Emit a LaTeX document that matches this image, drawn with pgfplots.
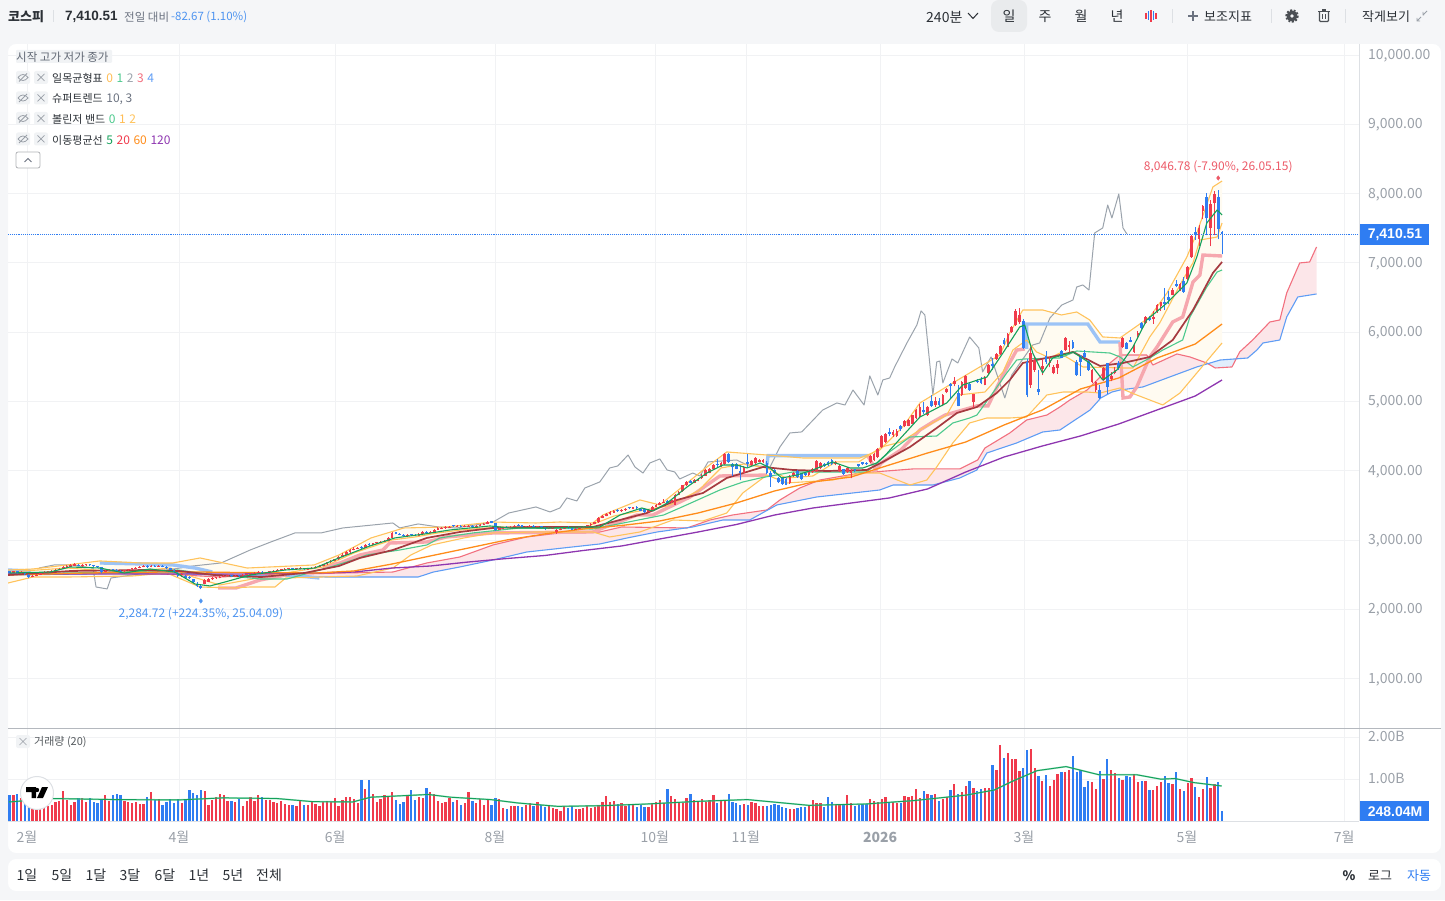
\documentclass[border=0pt]{standalone}
\usepackage{fontspec}
\setmainfont{Noto Sans CJK KR}
\newfontfamily\numb{Liberation Sans}
\usepackage{pgfplots}
\usepackage{pgfplotstable}
\pgfplotsset{compat=1.18}
\usepgfplotslibrary{fillbetween}
\newcommand{\fs}[1]{\fontsize{#1}{#1}\selectfont}
\newcommand{\lgd}[2]{\hspace{3.6pt}{\fs{12}\textcolor{#1}{#2}}}
\definecolor{pagebg}{HTML}{F5F6F8}
\definecolor{gridc}{HTML}{F1F2F4}
\definecolor{sepc}{HTML}{B4B8BE}
\definecolor{axc}{HTML}{DDE0E4}
\definecolor{txt}{HTML}{2B3036}
\definecolor{sub}{HTML}{6B7280}
\definecolor{tick}{HTML}{9AA0A8}
\definecolor{upc}{HTML}{F03A4C}
\definecolor{dnc}{HTML}{2F7DF2}
\definecolor{annr}{HTML}{EC5A68}
\definecolor{annb}{HTML}{4E94F0}
\definecolor{gold}{HTML}{FFC35C}
\definecolor{kij}{HTML}{4CC98D}
\definecolor{chi}{HTML}{9BA3AC}
\definecolor{spa}{HTML}{F2707F}
\definecolor{spb}{HTML}{5F9DF5}
\definecolor{cloudr}{HTML}{FCE6E9}
\definecolor{cloudb}{HTML}{E1EEFC}
\definecolor{bbfill}{HTML}{FFFBF1}
\definecolor{stp}{HTML}{F6A7AE}
\definecolor{stb}{HTML}{9CC3F6}
\definecolor{mafive}{HTML}{14A05A}
\definecolor{matw}{HTML}{A63A40}
\definecolor{masx}{HTML}{FF8C1A}
\definecolor{mahu}{HTML}{8E36B0}
\definecolor{pill}{HTML}{F1F3F5}

% o c h l v, ten bars a line
\pgfplotstableread[row sep=\\]{
o c h l v\\
2545 2530 2555 2520 610\\ 2530 2545 2555 2520 610\\ 2545 2525 2550 2515 634\\ 2520 2535 2545 2510 553\\ 2530 2510 2540 2500 618\\ 2500 2465 2510 2450 512\\ 2470 2485 2495 2460 431\\ 2480 2495 2505 2475 350\\ 2500 2520 2530 2495 309\\ 2520 2535 2545 2515 309\\
2530 2545 2555 2525 350\\ 2545 2555 2565 2540 390\\ 2550 2570 2580 2545 455\\ 2570 2585 2595 2565 488\\ 2585 2610 2620 2580 707\\ 2610 2630 2640 2600 512\\ 2615 2640 2650 2610 390\\ 2630 2655 2670 2625 455\\ 2645 2625 2655 2620 553\\ 2625 2640 2650 2615 561\\
2635 2650 2660 2625 455\\ 2650 2635 2660 2630 553\\ 2635 2620 2645 2610 447\\ 2620 2605 2630 2600 431\\ 2605 2540 2610 2530 520\\ 2540 2555 2570 2535 610\\ 2555 2570 2580 2550 472\\ 2575 2565 2585 2555 618\\ 2565 2550 2575 2545 634\\ 2550 2545 2560 2535 618\\
2545 2560 2570 2540 472\\ 2560 2575 2585 2555 447\\ 2575 2590 2600 2570 431\\ 2585 2600 2610 2580 455\\ 2600 2610 2620 2595 407\\ 2610 2625 2635 2605 415\\ 2625 2610 2635 2600 585\\ 2610 2630 2640 2605 683\\ 2630 2620 2640 2610 512\\ 2620 2630 2640 2615 537\\
2630 2615 2640 2605 390\\ 2615 2590 2620 2580 455\\ 2590 2570 2600 2560 537\\ 2565 2535 2575 2525 439\\ 2530 2480 2540 2470 537\\ 2490 2510 2520 2470 439\\ 2480 2450 2490 2440 537\\ 2470 2445 2480 2430 732\\ 2430 2390 2440 2380 659\\ 2370 2330 2390 2320 618\\
2330 2300 2350 2285 732\\ 2370 2420 2430 2360 707\\ 2400 2430 2445 2390 390\\ 2430 2445 2460 2425 512\\ 2445 2460 2470 2440 585\\ 2450 2470 2485 2445 634\\ 2470 2485 2495 2465 618\\ 2480 2490 2500 2470 488\\ 2490 2475 2500 2465 472\\ 2475 2485 2495 2470 455\\
2490 2480 2500 2470 537\\ 2485 2500 2510 2480 366\\ 2495 2505 2515 2490 488\\ 2505 2515 2525 2500 585\\ 2515 2525 2535 2510 488\\ 2525 2535 2545 2520 610\\ 2535 2520 2545 2515 577\\ 2520 2530 2540 2515 512\\ 2530 2545 2555 2525 512\\ 2545 2555 2565 2540 455\\
2555 2565 2575 2550 431\\ 2565 2575 2585 2560 472\\ 2570 2580 2590 2565 407\\ 2580 2590 2600 2575 374\\ 2590 2580 2600 2570 390\\ 2580 2590 2600 2575 350\\ 2590 2595 2605 2585 488\\ 2595 2575 2600 2565 390\\ 2575 2585 2595 2570 390\\ 2585 2600 2610 2580 472\\
2600 2610 2620 2595 407\\ 2610 2625 2635 2605 350\\ 2625 2650 2660 2620 455\\ 2650 2675 2685 2645 488\\ 2675 2695 2705 2670 455\\ 2695 2720 2730 2690 561\\ 2720 2755 2770 2715 350\\ 2755 2790 2805 2750 504\\ 2790 2820 2835 2785 585\\ 2820 2855 2870 2815 569\\
2855 2875 2895 2850 537\\ 2875 2890 2905 2870 431\\ 2900 2885 2915 2875 976\\ 2885 2925 2935 2880 756\\ 2940 2925 2950 2915 976\\ 2925 2950 2960 2920 634\\ 2950 2965 2975 2945 463\\ 2965 2975 2985 2960 520\\ 2975 2985 2995 2970 618\\ 2985 3030 3040 2980 577\\
3030 3100 3110 3025 683\\ 3110 3090 3120 3080 512\\ 3090 3075 3100 3065 407\\ 3075 3060 3085 3050 455\\ 3050 3065 3080 3040 593\\ 3080 3070 3090 3060 732\\ 3075 3060 3085 3050 512\\ 3060 3090 3100 3055 569\\ 3085 3110 3125 3080 553\\ 3115 3105 3125 3095 780\\
3100 3120 3130 3095 683\\ 3120 3150 3165 3115 650\\ 3150 3170 3180 3145 488\\ 3165 3175 3185 3160 439\\ 3170 3180 3195 3165 455\\ 3180 3190 3200 3175 553\\ 3210 3200 3220 3190 455\\ 3190 3195 3210 3185 504\\ 3200 3190 3210 3180 390\\ 3190 3200 3210 3185 439\\
3195 3205 3215 3190 699\\ 3205 3190 3215 3180 472\\ 3190 3205 3215 3185 431\\ 3205 3220 3230 3200 537\\ 3220 3235 3245 3215 390\\ 3235 3255 3275 3230 520\\ 3275 3250 3280 3240 374\\ 3240 3145 3250 3135 553\\ 3150 3170 3180 3140 520\\ 3165 3175 3185 3160 309\\
3190 3180 3200 3170 293\\ 3180 3190 3200 3175 366\\ 3190 3200 3210 3185 366\\ 3215 3210 3225 3200 366\\ 3210 3190 3220 3180 341\\ 3190 3195 3205 3185 390\\ 3195 3205 3215 3190 431\\ 3205 3190 3215 3180 350\\ 3185 3195 3205 3180 455\\ 3195 3180 3205 3170 374\\
3180 3160 3190 3150 325\\ 3160 3170 3180 3155 374\\ 3165 3175 3185 3160 309\\ 3110 3140 3160 3090 276\\ 3145 3165 3175 3140 244\\ 3165 3180 3190 3160 366\\ 3185 3175 3195 3165 309\\ 3175 3150 3180 3140 350\\ 3150 3165 3175 3145 276\\ 3165 3180 3190 3160 285\\
3180 3190 3200 3175 309\\ 3190 3210 3220 3185 366\\ 3210 3230 3240 3205 309\\ 3230 3255 3265 3225 325\\ 3255 3320 3330 3250 390\\ 3320 3345 3360 3315 455\\ 3345 3370 3385 3340 593\\ 3370 3400 3415 3365 455\\ 3395 3420 3430 3390 488\\ 3430 3420 3440 3405 407\\
3415 3435 3450 3410 431\\ 3430 3450 3460 3425 366\\ 3470 3455 3480 3445 407\\ 3450 3470 3480 3445 390\\ 3480 3460 3490 3450 325\\ 3450 3425 3465 3415 390\\ 3445 3400 3450 3390 325\\ 3410 3430 3440 3405 325\\ 3430 3475 3490 3425 431\\ 3480 3510 3520 3475 455\\
3510 3535 3550 3505 512\\ 3535 3550 3590 3530 431\\ 3560 3530 3570 3520 756\\ 3550 3575 3590 3540 593\\ 3510 3650 3665 3505 537\\ 3650 3690 3710 3645 439\\ 3700 3790 3800 3695 439\\ 3790 3830 3850 3785 553\\ 3850 3825 3870 3815 650\\ 3825 3860 3880 3820 512\\
3850 3885 3900 3845 488\\ 3890 3930 3950 3885 537\\ 3930 4010 4020 3925 447\\ 3970 4025 4040 3960 512\\ 4020 4075 4090 4010 610\\ 4100 4085 4170 4040 439\\ 4060 4105 4120 4050 504\\ 4090 4235 4255 4085 472\\ 4235 4120 4250 4110 634\\ 4090 4050 4110 3920 455\\
4090 4030 4105 4020 423\\ 3990 3960 4085 3860 374\\ 3970 4060 4070 3960 407\\ 4130 4100 4240 4050 374\\ 4080 4140 4150 4070 463\\ 4110 4180 4200 4100 439\\ 4130 4150 4165 4125 366\\ 4120 4160 4175 4110 350\\ 4110 3960 4140 3950 366\\ 3960 3910 3990 3770 382\\
4010 3960 4020 3950 398\\ 3900 3830 3910 3820 390\\ 3900 3810 3915 3800 325\\ 3880 3800 3890 3790 317\\ 3820 3920 3935 3810 276\\ 3920 3960 3975 3910 276\\ 4000 3910 4010 3900 309\\ 3960 3880 3970 3860 333\\ 3960 3940 3975 3930 325\\ 3940 4000 4015 3930 390\\
3980 4020 4035 3970 512\\ 3990 4140 4150 3985 423\\ 4040 4110 4125 4030 439\\ 4090 4070 4110 4060 341\\ 4130 4080 4140 4070 569\\ 4150 4090 4165 4080 455\\ 4090 4130 4145 4080 407\\ 3990 4070 4085 3980 390\\ 4020 3950 4030 3940 415\\ 3980 4040 4055 3970 618\\
3960 3990 4030 3890 431\\ 4020 3990 4030 3980 350\\ 4090 4070 4100 4060 390\\ 4120 4090 4130 4080 407\\ 4110 4090 4125 4080 407\\ 4125 4212 4225 4115 537\\ 4154 4240 4250 4145 488\\ 4197 4312 4325 4190 455\\ 4342 4500 4515 4330 520\\ 4414 4530 4550 4405 585\\
4560 4530 4610 4500 447\\ 4510 4560 4590 4490 455\\ 4500 4570 4600 4490 423\\ 4640 4600 4660 4570 423\\ 4640 4720 4730 4630 602\\ 4650 4725 4740 4640 585\\ 4680 4800 4810 4670 602\\ 4760 4880 4890 4750 756\\ 4775 4920 4960 4765 553\\ 4880 4840 4990 4820 715\\
4800 4920 4935 4790 650\\ 5000 4940 5090 4920 618\\ 4950 5000 5070 4920 634\\ 5010 4950 5050 4930 488\\ 4950 5090 5110 4930 537\\ 5130 5180 5195 5120 569\\ 5255 5220 5270 5040 740\\ 5250 5290 5350 5220 894\\ 5120 4930 5240 4930 634\\ 5090 5280 5295 5080 683\\
5190 5370 5385 5180 829\\ 5250 5160 5265 5150 959\\ 4990 5100 5110 4905 797\\ 5300 5280 5320 5270 715\\ 5330 5260 5345 5250 756\\ 5240 5350 5365 5230 789\\ 5410 5525 5540 5400 789\\ 5540 5510 5620 5450 1350\\ 5610 5680 5695 5600 1228\\ 5680 5800 5815 5670 1813\\
5890 5830 5910 5810 1512\\ 5790 5970 5990 5780 1634\\ 6000 6070 6090 5990 1472\\ 6100 6310 6330 6090 1472\\ 6140 6245 6350 6120 1203\\ 6160 5770 6190 5750 1268\\ 5570 5090 5610 5060 1691\\ 5236 5700 5780 5200 1715\\ 5453 5597 5650 5430 1268\\ 5180 5140 5453 5090 1081\\
5470 5510 5610 5380 959\\ 5660 5570 5720 5540 1106\\ 5560 5600 5640 5490 837\\ 5410 5500 5520 5390 976\\ 5480 5540 5590 5400 1122\\ 5720 5630 5740 5620 1179\\ 5740 5915 5930 5730 1179\\ 5790 5820 5870 5690 1220\\ 5860 5770 5890 5760 1545\\ 5570 5380 5590 5370 1179\\
5650 5570 5670 5370 1228\\ 5700 5640 5740 5620 813\\ 5580 5450 5600 5440 959\\ 5280 5450 5470 5260 935\\ 5160 5280 5300 5140 764\\ 5160 5050 5240 5040 1203\\ 5310 5480 5500 5290 1000\\ 5550 5210 5560 5110 1472\\ 5330 5370 5420 5290 1220\\ 5410 5450 5490 5390 1146\\
5550 5480 5580 5460 1024\\ 5780 5910 5930 5770 976\\ 5840 5760 5860 5750 1081\\ 5890 5860 5930 5850 1057\\ 5715 5815 5830 5700 1122\\ 5960 5980 6010 5900 927\\ 6130 6060 6150 6050 959\\ 6130 6215 6230 6120 959\\ 6210 6170 6230 6160 740\\ 6190 6215 6300 6120 740\\
6290 6390 6400 6280 837\\ 6370 6430 6440 6310 935\\ 6430 6400 6640 6320 1081\\ 6500 6460 6600 6400 902\\ 6540 6610 6630 6530 878\\ 6690 6660 6750 6650 1179\\ 6610 6690 6710 6600 756\\ 6740 6580 6790 6570 715\\ 6770 6940 6960 6750 902\\ 7080 7390 7400 7070 1032\\
7440 7400 7520 7330 813\\ 7350 7500 7550 7240 569\\ 7750 7820 7830 7630 764\\ 7950 7640 8010 7400 1057\\ 7500 7850 7900 7240 797\\ 7860 7990 8040 7400 878\\ 7950 7490 8046 7340 935\\ 7450 7410 7460 7120 248\\
}\kdata

\pgfplotsset{
  /pgfplots/table/upx/.style={x expr={\thisrow{c}>=\thisrow{o} ? \coordindex : nan}},
  /pgfplots/table/dnx/.style={x expr={\thisrow{c}<\thisrow{o} ? \coordindex : nan}},
  base/.style={scale only axis, width=1351pt, xmin=-0.42, xmax=352.8,
    xtick={4.55,44.3,85.1,126.9,168.7,192.5,227.6,265.2,307.8,348.9},
    grid=major, grid style={gridc,line width=.7pt},
    axis line style={draw=none}, major tick length=0pt,
    yticklabel pos=right, scaled y ticks=false,
    yticklabel style={anchor=west,inner sep=0pt,xshift=9pt,yshift=-.8pt,text=tick,font=\fs{14}},
    clip=true},
  wick/.style={only marks,mark=*,mark size=0pt,mark options={draw=none,fill=none},error bars/.cd,y dir=plus,y explicit,error mark=none,error bar style={#1,line width=1pt}},
  body/.style={only marks,mark=*,mark size=0pt,mark options={draw=none,fill=none},error bars/.cd,y dir=plus,y explicit,error mark=none,error bar style={#1,line width=2.7pt}},
  st/.style={#1,line width=3.4pt,mark=none},
  ln/.style={#1,line width=1.1pt,mark=none,line join=round},
}

\begin{document}
\begin{tikzpicture}[x=1pt,y=1pt]
% grey page as a frame round the two panels, so the fills under the plots stay visible
\begin{scope}[shift={(0,900)},yscale=-1]
  \fill[pagebg,even odd rule] (0,0) rectangle (1445,900)
    [rounded corners=8pt] (8,44) rectangle (1441,853)
    (8,859) rectangle (1441,891);
\end{scope}

% price panel
\begin{axis}[base, at={(8pt,172pt)}, anchor=south west, height=684pt,
  ymin=286, ymax=10158, xticklabels={},
  ytick={1000,2000,3000,4000,5000,6000,7000,8000,9000,10000},
  /pgf/number format/fixed, /pgf/number format/fixed zerofill, /pgf/number format/precision=2,
  /pgf/number format/1000 sep={,}, /pgf/number format/assume math mode=true]

% bollinger band
\addplot[draw=none,forget plot,name path=bbu] coordinates {(-0.4,2566)(6.1,2581)(15,2639)(23.6,2697)(34.1,2668)(42.7,2668)(49.8,2740)(58.4,2639)(62.1,2595)(79.6,2639)(86.1,2783)(94.5,3029)(103.1,3173)(114.1,3187)(126.4,3259)(137.6,3245)(143.9,3259)(152.5,3245)(155.1,3360)(164.8,3577)(170,3505)(182.3,4053)(187.5,4270)(198,4226)(207.4,4183)(222.3,4183)(227.5,4298)(233.5,4630)(238,4977)(246.6,5266)(251,5410)(258.9,5669)(261.5,5987)(264.9,6319)(270.1,6319)(275,6247)(279,6290)(282.4,6175)(285.8,5930)(290.3,5915)(298.1,6218)(302.6,6565)(307.8,7084)(310.4,7431)(314.6,8095)(317,8181)};
\addplot[draw=none,forget plot,name path=bbl] coordinates {(-0.4,2379)(6.1,2465)(15,2465)(32.2,2480)(41.1,2523)(49.8,2321)(58.4,2307)(62.9,2321)(69.4,2321)(72.2,2451)(90.8,2480)(100.2,2595)(104.9,2783)(110.4,2928)(118.8,3029)(126.4,3101)(137.6,3115)(152.5,3115)(156.9,3043)(164.8,3115)(173.4,3288)(181.3,3274)(187.5,3389)(191.7,3678)(198,3937)(203.2,3822)(215.2,3865)(222.3,3966)(227.5,3966)(235.4,3793)(239.8,3865)(242.4,4053)(246.6,4400)(251,4688)(255.5,4760)(261.5,4760)(265.9,4775)(271.2,5092)(275.4,5135)(281.7,5135)(285.1,5121)(290.3,5193)(294.7,5092)(301.5,4948)(306,5121)(310.4,5410)(317,5843)};
\addplot[fill=bbfill,draw=none] fill between[of=bbu and bbl];

% ichimoku cloud
\addplot[draw=none,forget plot,name path=spana] coordinates {(-0.4,2509)(20,2523)(40,2509)(55,2465)(65.5,2494)(87.1,2523)(100.2,2537)(109.1,2668)(117.7,2754)(126.4,2928)(135.2,3043)(143.9,3101)(154.3,3115)(160,3187)(177.1,3173)(183.1,3288)(189,3360)(198,3433)(201.4,3577)(206.6,3750)(211.8,3865)(222.3,3966)(236.2,4025)(248.4,4025)(253.1,4154)(255,4327)(261.5,4544)(265.9,4731)(271.2,4803)(274.6,4919)(277.2,5020)(281.7,5164)(285.1,5352)(287.7,5554)(290.3,5669)(297.3,5669)(298.9,5525)(305.2,5684)(308.6,5641)(313,5554)(315.2,5482)(319.6,5497)(321.6,5713)(325,5886)(329.5,6146)(332.1,6175)(333.9,6565)(337.3,6998)(339.9,7012)(341.7,7229)};
\addplot[draw=none,forget plot,name path=spanb] coordinates {(-0.4,2494)(20,2509)(40,2537)(50,2502)(65.5,2480)(74,2480)(83,2465)(106.8,2465)(110.8,2537)(117.7,2610)(126.4,2711)(135.2,2826)(154.3,2942)(161.5,3029)(169.3,3115)(178.6,3187)(186.5,3288)(193.5,3288)(200.6,3505)(211,3620)(227.5,3721)(231,3793)(241.4,3793)(248.4,3894)(252.9,4010)(255.5,4255)(263.3,4400)(270.1,4558)(274.6,4587)(282.5,4876)(285.3,5049)(288.2,5135)(290.3,5164)(296.3,5208)(303.3,5352)(310.4,5497)(316.5,5597)(323.7,5626)(326.1,5741)(327.7,5843)(332.1,5886)(333.9,6218)(336.8,6507)(341.7,6550)};
\addplot[fill=cloudr,draw=none] fill between[of=spana and spanb];
\addplot[fill=cloudb,draw=none] fill between[of=spana and spanb,soft clip={domain=313:321}];
\addplot[ln=spa] coordinates {(-0.4,2509)(20,2523)(40,2509)(55,2465)(65.5,2494)(87.1,2523)(100.2,2537)(109.1,2668)(117.7,2754)(126.4,2928)(135.2,3043)(143.9,3101)(154.3,3115)(160,3187)(177.1,3173)(183.1,3288)(189,3360)(198,3433)(201.4,3577)(206.6,3750)(211.8,3865)(222.3,3966)(236.2,4025)(248.4,4025)(253.1,4154)(255,4327)(261.5,4544)(265.9,4731)(271.2,4803)(274.6,4919)(277.2,5020)(281.7,5164)(285.1,5352)(287.7,5554)(290.3,5669)(297.3,5669)(298.9,5525)(305.2,5684)(308.6,5641)(313,5554)(315.2,5482)(319.6,5497)(321.6,5713)(325,5886)(329.5,6146)(332.1,6175)(333.9,6565)(337.3,6998)(339.9,7012)(341.7,7229)};
\addplot[ln=spb] coordinates {(-0.4,2494)(20,2509)(40,2537)(50,2502)(65.5,2480)(74,2480)(83,2465)(106.8,2465)(110.8,2537)(117.7,2610)(126.4,2711)(135.2,2826)(154.3,2942)(161.5,3029)(169.3,3115)(178.6,3187)(186.5,3288)(193.5,3288)(200.6,3505)(211,3620)(227.5,3721)(231,3793)(241.4,3793)(248.4,3894)(252.9,4010)(255.5,4255)(263.3,4400)(270.1,4558)(274.6,4587)(282.5,4876)(285.3,5049)(288.2,5135)(290.3,5164)(296.3,5208)(303.3,5352)(310.4,5497)(316.5,5597)(323.7,5626)(326.1,5741)(327.7,5843)(332.1,5886)(333.9,6218)(336.8,6507)(341.7,6550)};

% chikou
\addplot[chi,line width=1pt,mark=none,line join=round] coordinates {(7.7,2595)(11.6,2639)(16,2639)(21.8,2595)(22.6,2321)(25.5,2293)(26.5,2451)(32,2494)(39.6,2552)(47.9,2624)(55.3,2668)(62.9,2855)(68.3,2971)(74.6,3101)(81.4,3101)(87.1,3173)(100.2,3245)(102,3173)(106.8,3231)(112.2,3187)(116.9,3173)(126.4,3259)(130.5,3389)(137.6,3476)(141.3,3404)(143.9,3462)(145.7,3606)(148.3,3563)(150.4,3750)(154.3,3837)(156.9,4039)(159,4068)(161.7,4226)(163.5,4053)(165.6,3966)(167.4,4111)(170,4169)(171.9,4010)(173.9,3981)(175.2,3880)(178.6,3966)(180.5,3923)(182.6,4126)(190.1,4154)(192.8,4082)(198.8,4053)(201.4,4342)(204,4544)(207.1,4559)(212.6,4876)(216.3,4977)(218.4,4948)(220.5,5164)(223.4,4948)(224.9,5367)(227,5092)(228.3,5309)(230.1,5338)(231.4,5497)(234.6,5843)(237.2,6102)(238.3,6305)(239.3,6247)(241.4,5092)(242.4,5569)(243.2,5583)(244,5266)(246.4,5612)(247.9,5554)(251,5929)(253.4,5771)(254.4,5425)(256.6,5641)(260.2,5049)(262,5381)(267.5,5814)(269.3,5843)(272,6204)(275.1,6391)(278,6463)(279,6651)(280.6,6680)(282.2,6607)(283.7,7431)(285.8,7503)(287.1,7834)(288.2,7647)(290,7993)(291.1,7503)(292.1,7417)};

% supertrend
\addplot[st=stb] coordinates {(-0.4,2566)(5.5,2552)};
\addplot[st=stb] coordinates {(23.6,2668)(35,2653)(42.7,2639)(48.5,2595)(53,2537)};
\addplot[st=stp] coordinates {(54.5,2307)(59.2,2307)(65.5,2422)(72.2,2494)};
\addplot[st=stb] coordinates {(73.3,2494)(81,2451)};
\addplot[st=stp] coordinates {(81.9,2610)(86.4,2668)(91.6,2783)(97.6,2855)(99.4,2956)(109.1,2971)(114.2,3043)(126.4,3101)(152.5,3115)(155.1,3173)(164,3360)(168.2,3360)(177.9,3620)(182.3,3793)(185.7,3923)(198,3937)};
\addplot[st=stb] coordinates {(198,4082)(198.3,4218)(224.4,4218)};
\addplot[st=stp] coordinates {(224.4,4212)(226.5,4010)(227.9,4111)(233,4298)(238,4587)(241.4,4703)(244.6,4803)(252.9,4934)(255.8,4934)(259.7,5381)(263.3,5741)(265.4,5756)};
\addplot[st=stb] coordinates {(265.9,5756)(265.9,6117)(281.9,6117)(285.1,5857)(290.3,5857)};
\addplot[st=stp] coordinates {(290.3,5857)(291.1,5049)(292.9,5064)(294.7,5208)(298.1,5641)(300,5785)(304.1,6146)(306.7,6218)(309.4,6723)(311.2,6824)(312,7112)(317,7098)};

% bollinger edges, tenkan, kijun
\addplot[ln=gold] coordinates {(-0.4,2566)(6.1,2581)(15,2639)(23.6,2697)(34.1,2668)(42.7,2668)(49.8,2740)(58.4,2639)(62.1,2595)(79.6,2639)(86.1,2783)(94.5,3029)(103.1,3173)(114.1,3187)(126.4,3259)(137.6,3245)(143.9,3259)(152.5,3245)(155.1,3360)(164.8,3577)(170,3505)(182.3,4053)(187.5,4270)(198,4226)(207.4,4183)(222.3,4183)(227.5,4298)(233.5,4630)(238,4977)(246.6,5266)(251,5410)(258.9,5669)(261.5,5987)(264.9,6319)(270.1,6319)(275,6247)(279,6290)(282.4,6175)(285.8,5930)(290.3,5915)(298.1,6218)(302.6,6565)(307.8,7084)(310.4,7431)(314.6,8095)(317,8181)};
\addplot[ln=gold] coordinates {(-0.4,2379)(6.1,2465)(15,2465)(32.2,2480)(41.1,2523)(49.8,2321)(58.4,2307)(62.9,2321)(69.4,2321)(72.2,2451)(90.8,2480)(100.2,2595)(104.9,2783)(110.4,2928)(118.8,3029)(126.4,3101)(137.6,3115)(152.5,3115)(156.9,3043)(164.8,3115)(173.4,3288)(181.3,3274)(187.5,3389)(191.7,3678)(198,3937)(203.2,3822)(215.2,3865)(222.3,3966)(227.5,3966)(235.4,3793)(239.8,3865)(242.4,4053)(246.6,4400)(251,4688)(255.5,4760)(261.5,4760)(265.9,4775)(271.2,5092)(275.4,5135)(281.7,5135)(285.1,5121)(290.3,5193)(294.7,5092)(301.5,4948)(306,5121)(310.4,5410)(317,5843)};
\addplot[ln=gold] coordinates {(-0.4,2537)(15,2595)(30,2537)(42,2595)(48,2465)(55,2350)(65,2451)(72,2523)(82,2610)(90,2812)(100,3000)(106,3043)(112,3101)(118,3144)(128,3187)(150,3173)(158,3345)(166,3433)(172,3490)(180,3707)(186,4039)(192,4096)(198,4039)(203,3894)(210,3923)(216,4126)(222,4126)(228,4342)(233,4414)(238,4587)(245,4803)(248,5092)(255,5135)(259.7,5424)(262.3,5741)(265.9,5886)(268.5,5713)(272,5626)(274.6,5698)(280.6,5497)(291.1,5482)(293.7,5482)(298.1,5930)(300.7,6132)(306.7,6752)(309.4,7000)(311.2,7329)(315.7,7372)(317,7575)};
\addplot[ln=kij] coordinates {(-0.4,2509)(30,2537)(44,2566)(52,2509)(65.5,2437)(72.5,2436)(83,2595)(89.8,2711)(93.4,2783)(102,2855)(109.1,2928)(112.5,3029)(121.1,3101)(133.4,3173)(152.5,3158)(171,3360)(175.2,3461)(185.7,3721)(191.7,3836)(196.2,3894)(204.8,3981)(224,3981)(226,4067)(230,4269)(235.4,4486)(242.4,4500)(246.6,4688)(251,4760)(252.9,4803)(257.6,5164)(260.7,5410)(263.3,5597)(265.4,5612)(274.6,5626)(279,5727)(287.7,5698)(290.3,5641)(293.7,5497)(298.1,5626)(301.5,5741)(306.7,5886)(308.6,6218)(313,6651)(315.7,6867)(317,6896)};

% moving averages
\addplot[ln=mahu,line width=1.3pt] coordinates {(-0.4,2509)(40,2509)(60,2509)(80,2523)(90,2537)(100,2595)(110,2624)(120,2682)(130,2732)(140,2776)(150,2848)(160,2913)(170,3014)(180,3115)(190,3223)(200,3360)(210,3461)(220,3533)(230,3606)(240,3736)(250,3981)(260,4197)(270,4356)(280,4501)(290,4674)(300,4876)(310,5078)(317,5309)};
\addplot[ln=masx,line width=1.3pt] coordinates {(-0.4,2494)(20,2523)(40,2537)(50,2537)(60,2530)(80,2523)(90,2552)(100,2653)(110,2769)(120,2884)(130,3000)(140,3087)(150,3158)(160,3209)(170,3274)(180,3389)(190,3533)(200,3707)(210,3836)(220,3908)(230,4082)(240,4255)(250,4414)(260,4659)(270,4876)(280,5179)(290,5338)(300,5626)(310,5828)(317,6117)};
\addplot[ln=matw,line width=1.7pt] coordinates {(-0.4,2494)(16,2552)(35,2566)(44.3,2552)(53.4,2494)(65.8,2465)(77,2523)(86.1,2624)(91.6,2740)(100.2,2855)(109.1,3029)(117.7,3115)(126.4,3173)(135.2,3187)(152.5,3187)(166.6,3389)(174.5,3577)(181.3,3678)(187.5,3894)(197,4053)(204.8,4010)(213.7,3995)(224.1,4010)(228.3,4126)(235.4,4342)(242.4,4616)(247.7,4833)(252.9,4919)(258.1,5121)(261.5,5309)(264.9,5554)(268.5,5597)(274.6,5669)(278,5713)(285.1,5511)(291.1,5554)(298.1,5641)(304.1,5886)(309.4,6319)(314.6,6853)(317,7012)};

% candles
\addplot[wick=upc] table[upx,y=l,y error plus expr=\thisrow{h}-\thisrow{l}] {\kdata};
\addplot[wick=dnc] table[dnx,y=l,y error plus expr=\thisrow{h}-\thisrow{l}] {\kdata};
\addplot[body=upc] table[upx,y=o,y error plus expr=\thisrow{c}-\thisrow{o}] {\kdata};
\addplot[body=dnc] table[dnx,y=c,y error plus expr=\thisrow{o}-\thisrow{c}] {\kdata};

\addplot[ln=mafive] coordinates {(0,2523)(10.6,2537)(15.8,2610)(23.6,2595)(30,2523)(36.7,2581)(43.2,2537)(48.5,2364)(52.4,2336)(56.3,2393)(62.9,2494)(72,2566)(79.8,2595)(86.1,2740)(94.2,2913)(100.7,3029)(108.6,3087)(115.1,3144)(125.6,3202)(130.8,3173)(141.3,3173)(149.1,3187)(154.3,3187)(159.6,3360)(165.3,3461)(168.2,3418)(171.9,3533)(177.1,3764)(182.3,3966)(186.5,4082)(190.1,4082)(192.8,4039)(196.2,4111)(198.8,4039)(201.9,3894)(205.8,3937)(210,4010)(215.2,4126)(219.7,4039)(223.1,4039)(226.7,4111)(229,4226)(233,4472)(238,4774)(245,4977)(249.2,5237)(255.5,5352)(259.7,5698)(264.1,6074)(265.4,6102)(267.5,5698)(270.1,5410)(272.7,5626)(278,5713)(282.4,5554)(285.8,5308)(289.5,5453)(293.7,5785)(297.3,6175)(302.6,6420)(307.8,6709)(310.4,7084)(313,7574)(315.7,7762)(317,7690)};

% current price, high and low marks
\addplot[dnc,densely dotted,line width=.9pt] coordinates {(-0.42,7410.51)(352.8,7410.51)};
\addplot[only marks,mark=diamond*,mark size=2.2pt,annr] coordinates {(316,8224)};
\addplot[only marks,mark=diamond*,mark size=2.2pt,annb] coordinates {(50,2119)};
\node[text=annr,font=\fs{12}] at (axis cs:316,8384) {8,046.78 (-7.90\%, 26.05.15)};
\node[text=annb,font=\fs{12}] at (axis cs:50,1935) {2,284.72 (+224.35\%, 25.04.09)};
\end{axis}

% volume panel
\begin{axis}[base, at={(8pt,79pt)}, anchor=south west, height=92pt,
  ymin=0, ymax=2200, ytick={1000,2000}, yticklabels={1.00B,2.00B},
  yticklabel style={yshift=1.3pt},
  xticklabels={2월,4월,6월,8월,10월,11월,\textbf{2026},3월,5월,7월},
  xticklabel style={text=tick,font=\fs{14},yshift=-7pt,text height=11pt,text depth=2pt}]
\addplot[ycomb,upc,line width=2.3pt,mark=none] table[upx,y=v] {\kdata};
\addplot[ycomb,dnc,line width=2.3pt,mark=none] table[dnx,y=v] {\kdata};
\addplot[kij,line width=1.6pt,opacity=.6,mark=none] coordinates {(-0.2,455)(11.5,537)(27.8,512)(44.2,504)(55.8,553)(69.9,537)(79.2,463)(89.7,455)(94.4,569)(109.5,634)(115.3,569)(125.8,512)(132.9,431)(143.3,350)(155,366)(166.7,407)(180.5,472)(192.9,512)(209,374)(223.9,407)(236.4,488)(250,618)(257.4,740)(262.4,959)(268.6,1203)(276.2,1301)(284.8,1106)(294.7,1106)(301,1000)(304.7,1016)(309.6,919)(316.9,837)};
\addplot[mafive,line width=.9pt,mark=none] coordinates {(-0.2,455)(11.5,537)(27.8,512)(44.2,504)(55.8,553)(69.9,537)(79.2,463)(89.7,455)(94.4,569)(109.5,634)(115.3,569)(125.8,512)(132.9,431)(143.3,350)(155,366)(166.7,407)(180.5,472)(192.9,512)(209,374)(223.9,407)(236.4,488)(250,618)(257.4,740)(262.4,959)(268.6,1203)(276.2,1301)(284.8,1106)(294.7,1106)(301,1000)(304.7,1016)(309.6,919)(316.9,837)};
\end{axis}

% page furniture, in reference pixels
\begin{scope}[shift={(0,900)},yscale=-1]
  \draw[axc,line width=.8pt] (1359,44) -- (1359,821);
  \draw[sepc,line width=1pt] (8,728.5) -- (1441,728.5);
  \draw[axc,line width=.8pt] (8,821) -- (1359,821);
  \fill[dnc] (1360,224.5) rectangle (1429,245);
  \node[text=white,font=\fs{14}\numb\bfseries] at (1395,235) {7,410.51};
  \fill[dnc] (1360,801) rectangle (1429,821);
  \node[text=white,font=\fs{14}\numb\bfseries] at (1395,811.5) {248.04M};

  % header
  \node[anchor=west,inner sep=0,text=txt,font=\fs{13}\bfseries] at (8,17) {코스피};
  \fill[axc] (53,10) rectangle (54,22);
  \node[anchor=west,inner sep=0,text=txt,font=\fs{13.5}\numb\bfseries] at (65,17) {7,410.51};
  \node[anchor=west,inner sep=0,text=sub,font=\fs{11.5}] at (124,17) {전일 대비};
  \node[anchor=west,inner sep=0,text=annb,font=\fs{11.5}] at (171,17) {-82.67 (1.10\%)};

  \node[anchor=west,inner sep=0,text=txt,font=\fs{14}] at (926,17) {240분};
  \draw[txt,line width=1pt] (968,13) -- (973,18.5) -- (978,13);
  \fill[rounded corners=8pt,fill=axc!65] (991,0) rectangle (1027,32);
  \foreach \lx/\lb in {1009/일,1045/주,1081/월,1117/년}
    \node[text=txt,font=\fs{14}] at (\lx,16.5) {\lb};
  \foreach \ix/\ih/\ic in {1146/3/upc,1148.5/4.5/dnc,1151/6/upc,1153.5/4.5/dnc,1156/3/upc}
    \draw[\ic,line width=1.5pt] (\ix,16-\ih) -- (\ix,16+\ih);
  \fill[axc] (1172,9) rectangle (1173,23);
  \draw[sub,line width=1.2pt] (1188,16) -- (1198,16) (1193,11) -- (1193,21);
  \node[anchor=west,inner sep=0,text=txt,font=\fs{13}] at (1204,17) {보조지표};
  \fill[axc] (1271,9) rectangle (1272,23);
  \fill[txt!85] (1292,16) circle (5.5);
  \draw[txt!85,line width=1.8pt,dash pattern=on 2pt off 1.6pt] (1292,16) circle (5.8);
  \fill[pagebg] (1292,16) circle (1.9);
  \draw[txt!85,line width=1.1pt,rounded corners=1pt] (1319.5,11.5) -- (1319.5,21.5) -- (1328.5,21.5) -- (1328.5,11.5);
  \draw[txt!85,line width=1.1pt] (1318,11.5) -- (1330,11.5) (1322,10) -- (1326,10) (1322.5,14.5) -- (1322.5,19) (1325.5,14.5) -- (1325.5,19);
  \fill[axc] (1345,9) rectangle (1346,23);
  \node[anchor=west,inner sep=0,text=txt,font=\fs{13}] at (1362,17) {작게보기};
  \draw[tick,line width=.9pt] (1417,21) -- (1421,17) (1417,18) -- (1417,21) -- (1420,21) (1427,11) -- (1423,15) (1424,15) -- (1423,15) -- (1423,12);

  % indicator legend
  \fill[pill,rounded corners=1pt] (16,50) rectangle (112,63);
  \node[anchor=west,inner sep=0,text=sub!90!black,font=\fs{11.5}] at (16,57.5) {시작 고가 저가 종가};
  \foreach \ry in {77.5,98,118.5,139}{
    \fill[pill,rounded corners=2pt] (16,\ry-6.5) rectangle (30,\ry+6.5);
    \fill[pill,rounded corners=2pt] (34,\ry-6.5) rectangle (48,\ry+6.5);
    \draw[tick,line width=.8pt] (18,\ry) .. controls (21,\ry-4) and (25,\ry-4) .. (28,\ry) .. controls (25,\ry+4) and (21,\ry+4) .. (18,\ry);
    \draw[tick,line width=.8pt] (19,\ry+4) -- (27,\ry-4);
    \draw[tick,line width=.7pt] (37.5,\ry-3.5) -- (44.5,\ry+3.5) (44.5,\ry-3.5) -- (37.5,\ry+3.5);
  }
  \node[anchor=west,inner sep=0,font=\fs{11}] at (52,78.5) {\textcolor{txt}{일목균형표}\lgd{gold!90!orange}{0}\lgd{kij}{1}\lgd{chi}{2}\lgd{spa}{3}\lgd{spb}{4}};
  \node[anchor=west,inner sep=0,font=\fs{11}] at (52,99) {\textcolor{txt}{슈퍼트렌드}\lgd{sub}{10, 3}};
  \node[anchor=west,inner sep=0,font=\fs{11}] at (52,119.5) {\textcolor{txt}{볼린저 밴드}\lgd{kij}{0}\lgd{gold!90!orange}{1}\lgd{gold}{2}};
  \node[anchor=west,inner sep=0,font=\fs{11}] at (52,140) {\textcolor{txt}{이동평균선}\lgd{mafive}{5}\lgd{upc}{20}\lgd{masx}{60}\lgd{mahu}{120}};
  \draw[axc!80!black,line width=.8pt,rounded corners=2pt,fill=white] (16,152) rectangle (40,168);
  \draw[sub,line width=.9pt] (24.5,162) -- (28,158.5) -- (31.5,162);

  % volume legend and logo
  \fill[pill,rounded corners=2pt] (16,735) rectangle (30,748);
  \draw[tick,line width=.7pt] (19.5,738) -- (26.5,745) (26.5,738) -- (19.5,745);
  \node[anchor=west,inner sep=0,text=txt!80,font=\fs{11}] at (34,742.5) {거래량 (20)};
  \fill[white] (37,793) circle (16.5);
  \draw[axc,line width=1pt] (37,793) circle (16.5);
  \fill[black] (26,787) -- (36,787) -- (36,798) -- (31.5,798) -- (31.5,792) -- (26,792) -- cycle;
  \fill[black] (37,798) -- (42,787) -- (48,787) -- (43,798) -- cycle;
  \fill[black] (37,790) circle (2.2);

  % range bar
  \foreach \bx/\bl in {27/1일,62/5일,96/1달,130/3달,165/6달,199/1년,233/5년,269/전체}
    \node[text=txt,font=\fs{14}] at (\bx,875.5) {\bl};
  \node[text=txt,font=\fs{13}\bfseries] at (1349,875.5) {\%};
  \node[text=txt,font=\fs{13}] at (1380,875.5) {로그};
  \node[text=dnc,font=\fs{13}] at (1419,875.5) {자동};
\end{scope}
\end{tikzpicture}
\end{document}
